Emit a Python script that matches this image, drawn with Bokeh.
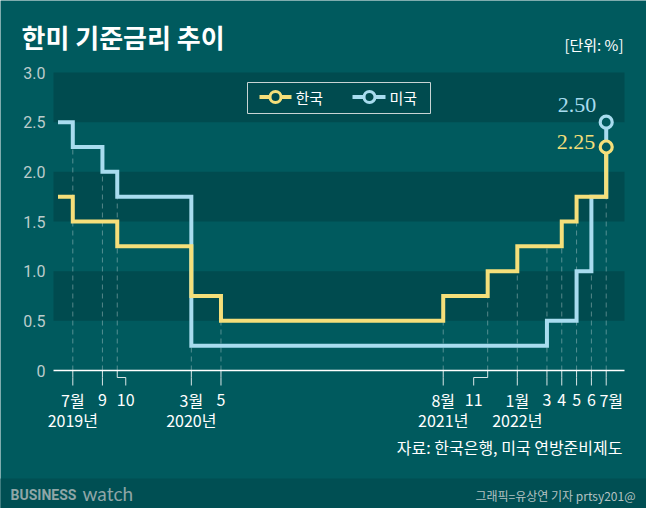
from bokeh.plotting import figure
from bokeh.models import Range1d
from bokeh.core.properties import value
from bokeh.embed import file_html
from bokeh.resources import INLINE

# ---------------- data ----------------
kr_months = ["2019-06", "2019-07", "2019-10", "2020-03", "2020-05", "2021-08",
             "2021-11", "2022-01", "2022-04", "2022-05", "2022-07"]
kr_rates = [1.75, 1.50, 1.25, 0.75, 0.50, 0.75, 1.00, 1.25, 1.50, 1.75, 2.25]

us_months = ["2019-06", "2019-07", "2019-09", "2019-10", "2020-03", "2022-03",
             "2022-05", "2022-06", "2022-07"]
us_rates = [2.50, 2.25, 2.00, 1.75, 0.25, 0.50, 1.00, 1.75, 2.50]

tick_months = ["2019-07", "2019-09", "2019-10", "2020-03", "2020-05", "2021-08",
               "2021-11", "2022-01", "2022-03", "2022-04", "2022-05", "2022-06", "2022-07"]
tick_labels = ["7월", "9", "10", "3월", "5", "8월", "11", "1월", "3", "4", "5", "6", "7월"]

year_months = ["2019-07", "2020-03", "2021-08", "2022-01"]
year_labels = ["2019년", "2020년", "2021년", "2022년"]

y_ticks = [0, 0.5, 1.0, 1.5, 2.0, 2.5, 3.0]
y_tick_labels = ["0", "0.5", "1.0", "1.5", "2.0", "2.5", "3.0"]

series_names = ["한국", "미국"]

# ---------------- style / layout ----------------
BG = "#005a5e"
BAND = "#004b4f"
STRIP = "#004f53"
YELLOW = "#f5df7a"
BLUE = "#a8dcef"
KFONT = "Noto Sans CJK KR"

W, H = 646, 508
MARGIN = 0
PX_PER_MONTH = 14.817
REF_M, REF_PX = 6, 72.3          # July 2019 position on the page
ZERO_PY, TOP_PY, Y_TOP = 370, 72, 3.0
PPU = (ZERO_PY - TOP_PY) / Y_TOP


def X(px):
    return REF_M + (px - REF_PX) / PX_PER_MONTH


def Y(py):
    return (ZERO_PY - py) / PPU


def midx(s):
    yy, mm = s.split("-")
    return (int(yy) - 2019) * 12 + int(mm) - 1


def rate_at(months, rates, m):
    r = rates[0]
    for mo, v in zip(months, rates):
        if midx(mo) <= m:
            r = v
    return r


kr_x = [midx(m) for m in kr_months]
us_x = [midx(m) for m in us_months]
tick_x = [midx(m) for m in tick_months]
year_x = [midx(m) for m in year_months]

PA_L, PA_R = X(53), X(624)

p = figure(width=W, height=H,
           x_range=Range1d(X(MARGIN), X(MARGIN + W)),
           y_range=Range1d(Y(MARGIN + H), Y(MARGIN)),
           output_backend="svg", toolbar_location=None, tools="",
           x_axis_location=None, y_axis_location=None,
           min_border=0, min_border_left=0, min_border_right=0,
           min_border_top=0, min_border_bottom=0,
           background_fill_color=BG, border_fill_color=BG,
           outline_line_color=None)
p.xgrid.visible = False
p.ygrid.visible = False

# alternating dark bands
p.quad(left=PA_L, right=PA_R, bottom=y_ticks[1::2], top=y_ticks[2::2],
       fill_color=BAND, line_color=None)

# bottom strip
p.quad(left=X(-10), right=X(700), bottom=Y(530), top=Y(478),
       fill_color=STRIP, line_color=None)

# dashed guide lines up to the step levels
tops = [max(rate_at(kr_months, kr_rates, m), rate_at(us_months, us_rates, m)) for m in tick_x]
p.segment(x0=tick_x, y0=[0] * len(tick_x), x1=tick_x, y1=tops,
          line_color="white", line_alpha=0.33, line_width=1, line_dash="5 4")

# baseline
p.segment(x0=[PA_L], y0=[0], x1=[PA_R], y1=[0], line_color="white", line_width=1.5)

# tick marks (with bent leaders where labels are shifted)
leader_px = {"2019-10": 8.5, "2021-11": -14}
label_px = {"2019-10": 8.5, "2021-11": -14, "2022-07": 5}
xs, ys, lab_x = [], [], []
for i, (mo, m) in enumerate(zip(tick_months, tick_x)):
    d = leader_px.get(mo, 0) / PX_PER_MONTH
    xs.append([m, m, m + d, m + d])
    ys.append([0, Y(377), Y(377), Y(385)])
    shift = label_px.get(mo, 0) if (mo != "2022-07" or i == len(tick_months) - 1) else 0
    lab_x.append(m + shift / PX_PER_MONTH)
p.multi_line(xs=xs, ys=ys, line_color="white", line_alpha=0.85, line_width=1)

# step lines
p.step(x=us_x, y=us_rates, mode="after", line_color=BLUE, line_width=4, line_join="miter")
p.step(x=kr_x, y=kr_rates, mode="after", line_color=YELLOW, line_width=4, line_join="miter")

# end markers + value labels
p.scatter(x=[us_x[-1]], y=[us_rates[-1]], marker="circle", size=12,
          fill_color=BG, line_color=BLUE, line_width=3.2)
p.scatter(x=[kr_x[-1]], y=[kr_rates[-1]], marker="circle", size=12,
          fill_color=BG, line_color=YELLOW, line_width=3.2)
p.text(x=[us_x[-1]], y=[us_rates[-1]], text=[f"{us_rates[-1]:.2f}"],
       x_offset=-10, y_offset=-17, text_align="right", text_baseline="middle",
       text_font=value("Liberation Serif"), text_font_size="22px", text_color=BLUE)
p.text(x=[kr_x[-1]], y=[kr_rates[-1]], text=[f"{kr_rates[-1]:.2f}"],
       x_offset=-11, y_offset=-5, text_align="right", text_baseline="middle",
       text_font=value("Liberation Serif"), text_font_size="22px", text_color=YELLOW)

# y tick labels
p.text(x=[X(45)] * len(y_ticks), y=y_ticks, text=y_tick_labels,
       text_align="right", text_baseline="middle",
       text_font=value("Roboto"), text_font_size="16px", text_color="#bccccc")

# x tick labels and years
p.text(x=lab_x, y=[Y(399.5)] * len(lab_x), text=tick_labels,
       text_align="center", text_baseline="middle",
       text_font=value(KFONT), text_font_size="16px", text_color="white")
p.text(x=year_x, y=[Y(419)] * len(year_x), text=year_labels,
       text_align="center", text_baseline="middle",
       text_font=value(KFONT), text_font_size="16px", text_color="white")

# legend
p.quad(left=[X(247)], right=[X(430)], top=[Y(82)], bottom=[Y(113)],
       fill_color=BAND, line_color="#c8d4d4", line_width=1)
leg_cols = [YELLOW, BLUE]
leg_l = [259, 352]
leg_r = [291, 385]
leg_c = [275, 369]
leg_t = [295, 389]
for name, col, l, r, c, t in zip(series_names, leg_cols, leg_l, leg_r, leg_c, leg_t):
    p.segment(x0=[X(l)], y0=[Y(96.5)], x1=[X(r)], y1=[Y(96.5)], line_color=col, line_width=4)
    p.scatter(x=[X(c)], y=[Y(96.5)], marker="circle", size=11, fill_color=BAND,
              line_color=col, line_width=3)
    p.text(x=[X(t)], y=[Y(97)], text=[name], text_align="left", text_baseline="middle",
           text_font=value(KFONT), text_font_size="15px", text_color="white")

# titles and notes
p.text(x=[X(21)], y=[Y(36)], text=["한미 기준금리 추이"], text_align="left",
       text_baseline="middle", text_font=value(KFONT), text_font_size="26px",
       text_font_style="bold", text_color="white")
p.text(x=[X(623)], y=[Y(44)], text=["[단위: %]"], text_align="right",
       text_baseline="middle", text_font=value(KFONT), text_font_size="15px",
       text_color="white")
p.text(x=[X(622)], y=[Y(446.5)], text=["자료: 한국은행, 미국 연방준비제도"], text_align="right",
       text_baseline="middle", text_font=value(KFONT), text_font_size="16px",
       text_color="white")
p.text(x=[X(10)], y=[Y(494)], text=["BUSINESS"], text_align="left",
       text_baseline="middle", text_font=value("Roboto"), text_font_size="14px",
       text_font_style="bold", text_color="#8fa6a7")
p.text(x=[X(82)], y=[Y(493)], text=["watch"], text_align="left",
       text_baseline="middle", text_font=value("Lato"), text_font_size="19px",
       text_color="#8fa6a7")
p.text(x=[X(635)], y=[Y(494.5)], text=["그래픽=유상연 기자 prtsy201@"], text_align="right",
       text_baseline="middle", text_font=value(KFONT), text_font_size="12px",
       text_color="#b4c2c2")

open("out.html", "w").write(file_html(p, INLINE))
